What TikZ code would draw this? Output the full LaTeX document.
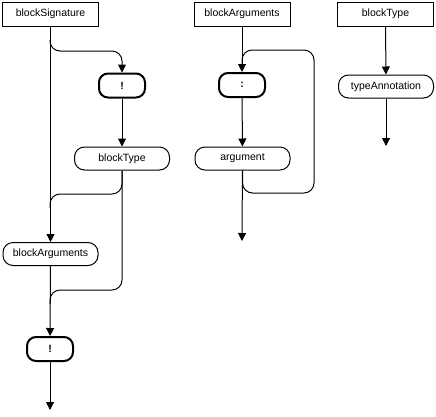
\documentclass[tikz,border=0pt]{standalone}
\usepackage{fontspec}
\setmainfont{Liberation Sans}
\usetikzlibrary{arrows.meta,positioning}

\begin{document}
\begin{tikzpicture}[x=1pt,y=-1pt,font=\fontsize{10.5}{12}\selectfont]
  \tikzset{rulebox/.style={draw,line width=1pt,minimum width=96pt,minimum height=24pt,inner sep=0pt},
    nonterm/.style={draw,line width=1pt,rounded corners=10pt,minimum width=95pt,minimum height=23pt,inner sep=0pt},
    term/.style={draw,line width=2pt,rounded corners=9pt,minimum width=46pt,minimum height=24pt,inner sep=0pt,font=\fontsize{10.5}{12}\selectfont\bfseries},
    flow/.style={line width=1pt,rounded corners=10pt},
    arr/.style={flow,-{Triangle[length=8pt,width=8pt]}}}
  \useasboundingbox (0,0) rectangle (436,416);
  % blockSignature
  \node[rulebox] (sig) at (50.5,14) {blockSignature};
  \node[term] (bang1) at (122,85.5) {!};
  \node[nonterm] (btype) at (122,158.5) {blockType};
  \node[nonterm] (bargs) at (50.5,254) {blockArguments};
  \node[term] (bang2) at (50,349) {!};
  \coordinate (end1) at (50,410);
  \coordinate (s1) at (50,40);
  \coordinate (h1) at (90,51);
  \coordinate (h2) at (86,194);
  \coordinate (j2) at (50,208);
  \coordinate (h3) at (86,290);
  \coordinate (j3) at (50,304);
  \draw[arr] (sig) -- (bargs);
  \draw[arr] (s1) |- (h1) -| (bang1.north);
  \draw[arr] (bang1) -- (btype);
  \draw[flow] (btype.south) |- (h2) -| (j2);
  \draw[flow] (btype.south) |- (h3) -| (j3);
  \draw[arr] (bargs) -- (bang2);
  \draw[arr] (bang2) -- (end1);
  % blockArguments
  \node[rulebox] (args) at (242,14) {blockArguments};
  \node[term] (colon) at (242,85) {:};
  \node[nonterm] (arg) at (242.5,158.5) {argument};
  \coordinate (end2) at (242,241);
  \coordinate (lpB) at (314,193);
  \coordinate (lpT) at (314,50);
  \coordinate (lpE) at (242,64);
  \foreach \a/\b in {args/colon,colon/arg,arg/end2} {
    \draw[arr] (\a) -- (\b);
  }
  \draw[flow] (arg.south) |- (lpB) -- (lpT) -| (lpE);
  % blockType
  \node[rulebox] (tbox) at (385.5,14) {blockType};
  \node[nonterm] (tann) at (386,86.5) {typeAnnotation};
  \coordinate (end3) at (386,146);
  \foreach \a/\b in {tbox/tann,tann/end3} {
    \draw[arr] (\a) -- (\b);
  }
\end{tikzpicture}
\end{document}
